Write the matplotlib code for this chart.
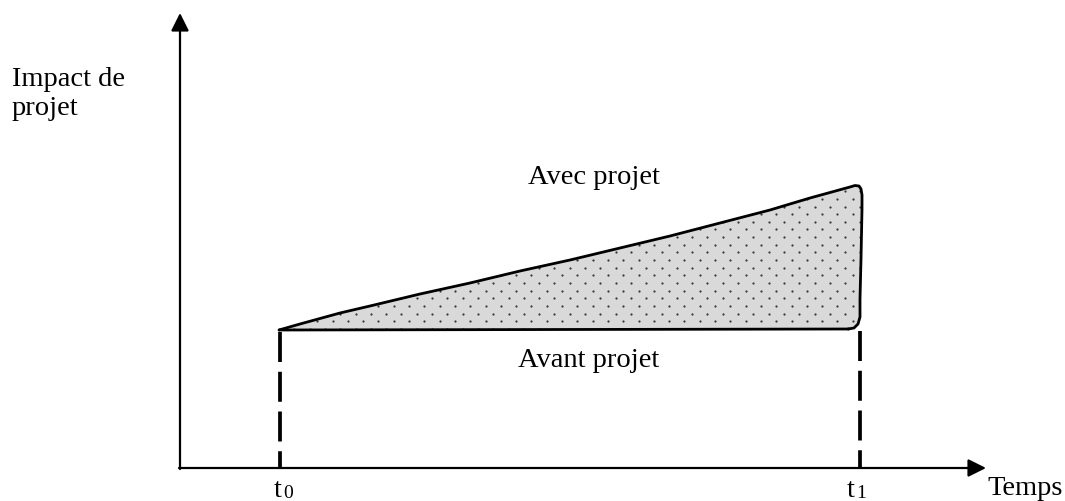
import numpy as np
import matplotlib
matplotlib.use("Agg")
import matplotlib.pyplot as plt
from matplotlib.patches import Polygon

plt.rcParams['font.family'] = ['Liberation Serif', 'DejaVu Serif']

t0_x = 280
t1_x = 860
axis_origin = (180, 469)
x_axis_end = 986
y_axis_end = 14
baseline_y = [331, 330]  # "avant projet" level at t0 and t1

# upper curve "avec projet"
curve_x = [279, 300, 340, 370, 420, 470, 520, 570, 620, 670, 720, 770, 810, 850]
curve_y = [331, 325, 314, 307, 295, 284, 272, 261, 249, 237, 224, 211, 199, 188]
# rounded right edge at t1, top to bottom
edge_x = [855, 859, 861, 862, 862, 861, 860, 860, 858, 854, 848]
edge_y = [186.5, 187, 190, 196, 210, 260, 300, 318, 325, 329, 330]

label_size = 20.5

fig = plt.figure(figsize=(10.65, 5.02), dpi=100)
ax = fig.add_axes([0, 0, 1, 1])
ax.set_xlim(0, 1065)
ax.set_ylim(502, 0)
ax.axis('off')

# shaded area between the two levels
outline = list(zip(curve_x + edge_x, curve_y + edge_y)) + [(curve_x[0], baseline_y[0])]
area = Polygon(outline, closed=True, facecolor='#d9d9d9', edgecolor='none', zorder=1)
ax.add_patch(area)

# dotted texture, staggered rows
dx, dy = 15.3, 7.65
gx, gy = [], []
for i, yy in enumerate(np.arange(284 - 20 * dy, 340, dy)):
    shift = 0 if i % 2 == 0 else dx / 2
    for xx in np.arange(585 - 21 * dx + shift, 880, dx):
        gx.append(xx)
        gy.append(yy)
dots = ax.scatter(gx, gy, s=2.6, color='#383838', linewidths=0, zorder=2)
dots.set_clip_path(area)

ax.plot(curve_x + edge_x, curve_y + edge_y, color='black', lw=2, zorder=3,
        solid_capstyle='round', solid_joinstyle='round')
ax.plot([t0_x, edge_x[-1]], baseline_y, color='black', lw=2, zorder=3)

# dashed drop lines
for tx, by in [(t0_x, baseline_y[0]), (t1_x, baseline_y[1])]:
    ax.plot([tx, tx], [by + 2, axis_origin[1]], color='black', lw=2.7,
            linestyle=(0, (8, 2.6)), zorder=3)

# axes with arrow heads
arrow = dict(arrowstyle='-|>,head_length=0.8,head_width=0.4', mutation_scale=13.5,
             lw=1.6, color='black', shrinkA=0, shrinkB=0)
ax.annotate('', xy=(x_axis_end, axis_origin[1]), xytext=(axis_origin[0] - 1, axis_origin[1]),
            arrowprops=arrow, zorder=4)
ax.annotate('', xy=(axis_origin[0], y_axis_end), xytext=(axis_origin[0], axis_origin[1] + 1),
            arrowprops=arrow, zorder=4)

# texts
ax.text(12, 86, 'Impact de', fontsize=label_size, ha='left', va='baseline')
ax.text(12, 115, 'projet', fontsize=label_size, ha='left', va='baseline')
ax.text(594, 184, 'Avec projet', fontsize=label_size, ha='center', va='baseline')
ax.text(589, 367, 'Avant projet', fontsize=label_size, ha='center', va='baseline')
ax.text(987, 495, 'Temps', fontsize=label_size, ha='left', va='baseline')

for tx, sub in [(t0_x - 6, '0'), (t1_x - 13, '1')]:
    ax.text(tx, 497, 't', fontsize=label_size, ha='left', va='baseline')
    ax.text(tx + 9, 498, sub, fontsize=14, ha='left', va='baseline')

fig.savefig('out.png', dpi=100)
